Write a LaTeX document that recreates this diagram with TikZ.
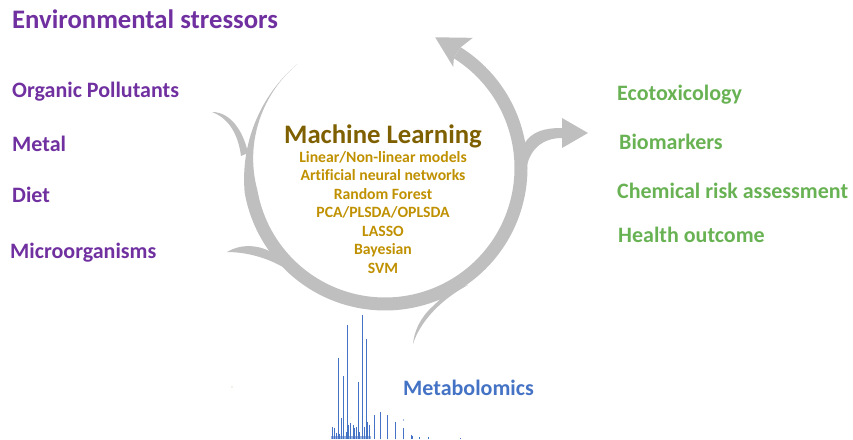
\documentclass[tikz,border=0pt]{standalone}
\usepackage{fontspec}
\setmainfont{Carlito}[Ligatures=NoCommon]
\definecolor{envpurple}{HTML}{7030A0}
\definecolor{outgreen}{RGB}{104,178,84}
\definecolor{mlbrown}{HTML}{7F6000}
\definecolor{mlgold}{HTML}{BF9000}
\definecolor{metblue}{HTML}{4472C4}
\definecolor{ringgrey}{HTML}{BFBFBF}
\tikzset{
  lbl/.style={inner sep=0pt, anchor=base west, font=\bfseries\fontsize{22}{26}\selectfont},
  envlbl/.style={lbl, text=envpurple},
  outlbl/.style={lbl, text=outgreen},
  mlitem/.style={inner sep=0pt, anchor=base, text=mlgold, font=\bfseries\fontsize{15.7}{18}\selectfont},
  peak/.style={draw=metblue, line width=1.1pt}
}
\begin{document}
\begin{tikzpicture}[x=1pt,y=-1pt]
\useasboundingbox (0,0) rectangle (853,439);
% ring
\fill[ringgrey] plot[domain=130:418,samples=160] ({385+(136+6.5*min(1,((\x-130)/60)^2))*cos(\x)},{168-(136+6.5*min(1,((\x-130)/60)^2))*sin(\x)})
  -- plot[domain=418:130,samples=160] ({385+(136-6.5*min(1,((\x-130)/60)^2))*cos(\x)},{168-(136-6.5*min(1,((\x-130)/60)^2))*sin(\x)}) -- cycle;
% top arrowhead
\fill[ringgrey] ({385+142*cos(58)},{168-142*sin(58)}) -- ({385+157*cos(56)},{168-157*sin(56)})
  -- ({385+140*cos(69)},{168-140*sin(69)}) -- ({385+122*cos(56)},{168-122*sin(56)})
  -- ({385+130*cos(58)},{168-130*sin(58)}) -- cycle;
% upper-left spur
\fill[ringgrey] (212,112) .. controls (230,112) and (243,130) .. (248,153) -- (241,156) .. controls (238,133) and (228,118) .. (212,112) -- cycle;
% lower-left spur
\fill[ringgrey] (273,253) .. controls (258,244) and (240,244) .. (227,252) .. controls (250,252) and (280,260) .. (305,283) -- (290,262) -- cycle;
% bottom-right spur
\fill[ringgrey] (432,307) .. controls (420,318) and (414,332) .. (413,344) .. controls (420,322) and (440,300) .. (468,285) -- (450,290) -- cycle;
% right arrow branch
\fill[ringgrey] (524,144) .. controls (532,131) and (545,128) .. (562,128) -- (562,118) -- (588,133) -- (562,148) -- (562,138)
  .. controls (542,138) and (528,150) .. (526,172) -- (516,168) -- (516,146) -- cycle;
% spectrum
\fill[metblue!55] (331,435.5) rectangle (371,439);
\foreach \px/\py in {332/427,334/428,336/433,338/358,339/434,341/418,343/376,346/432,347/325,348/425,350/423,353/425,354/428,356/427,358/382,359/432,362/315,364/427,366/339,367/422,369/425,374/415,380/412,387/415,395/422,403/428,411/435,412/436,419/437,428/437,460/438}
  \draw[peak] (\px+0.5,439) -- (\px+0.5,\py);
\fill[metblue] (403.5,420) circle (0.6);
\fill[outgreen!60] (232,387) circle (0.6);
% left labels
\node[envlbl, font=\bfseries\fontsize{26.7}{30}\selectfont] (env) at (12,28.5) {Environmental stressors};
\node[envlbl] (org) at (12,97) {Organic Pollutants};
\node[envlbl] (met) at (12,151) {Metal};
\node[envlbl] (diet) at (12,202) {Diet};
\node[envlbl] (micro) at (10,258) {Microorganisms};
% right labels
\node[outlbl] (eco) at (617,100) {Ecotoxicology};
\node[outlbl] (bio) at (619,149) {Biomarkers};
\node[outlbl] (chem) at (617,198) {Chemical risk assessment};
\node[outlbl] (health) at (618,242) {Health outcome};
% centre
\node[inner sep=0pt, anchor=base, text=mlbrown, font=\bfseries\fontsize{26.7}{30}\selectfont] (ml) at (383,143) {Machine Learning};
\node[mlitem] (ml1) at (383,162) {Linear/Non-linear models};
\node[mlitem] (ml2) at (383,180.5) {Artificial neural networks};
\node[mlitem] (ml3) at (383,199) {Random Forest};
\node[mlitem] (ml4) at (383,217) {PCA/PLSDA/OPLSDA};
\node[mlitem] (ml5) at (383,236) {LASSO};
\node[mlitem] (ml6) at (383,254) {Bayesian};
\node[mlitem] (ml7) at (383,273) {SVM};
% metabolomics
\node[lbl, text=metblue] (metab) at (403,395) {Metabolomics};
\end{tikzpicture}
\end{document}
